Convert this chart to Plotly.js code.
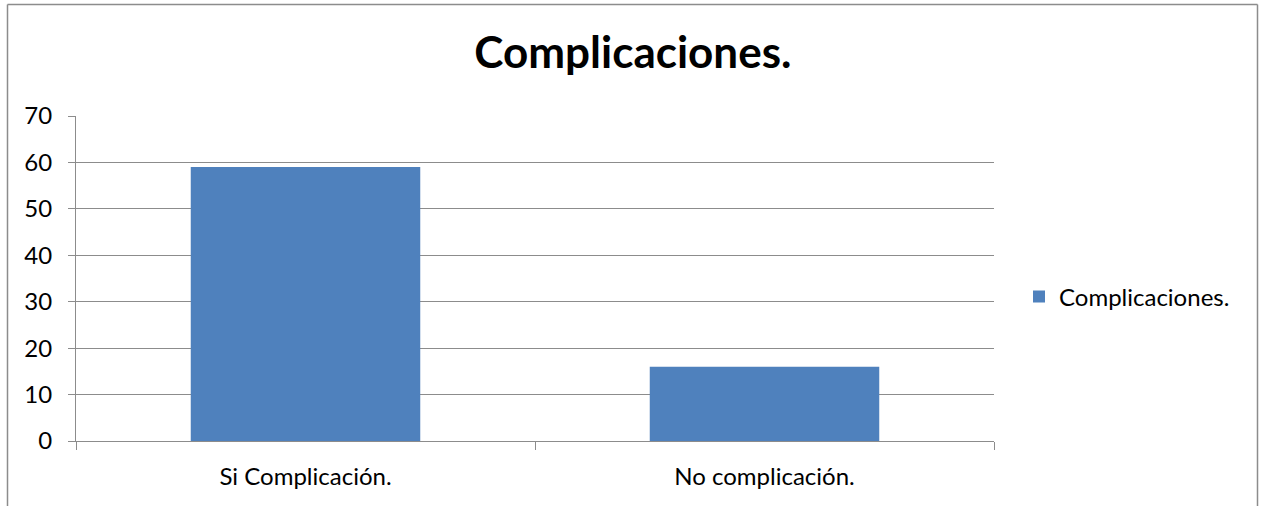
<!DOCTYPE html>
<html>
<head>
<meta charset="utf-8">
<script src="https://cdn.plot.ly/plotly-3.0.1.min.js"></script>
<style>html,body{margin:0;padding:0;background:#fff;}#chart{width:1262px;height:506px;}</style>
</head>
<body>
<div id="chart"></div>
<script>
var categories = ["Si Complicación.", "No complicación."];
var values = [59, 16];
var seriesName = "Complicaciones.";
var chartTitle = "Complicaciones.";
var yTicks = [0, 10, 20, 30, 40, 50, 60, 70];

var FONT = "Lato, 'Open Sans', sans-serif";
var GRID = "#8c8c8c";

var trace = {
  type: "bar",
  x: categories,
  y: values,
  name: seriesName,
  marker: {color: "#4F81BD", line: {width: 0}},
  showlegend: true,
  hoverinfo: "x+y"
};

var layout = {
  width: 1262,
  height: 506,
  margin: {l: 76, r: 268, t: 116, b: 65, pad: 0},
  paper_bgcolor: "#ffffff",
  plot_bgcolor: "#ffffff",
  font: {family: FONT, size: 24, color: "#000"},
  title: {
    text: "<b>" + chartTitle + "</b>",
    font: {family: FONT, size: 44, color: "#000"},
    x: 0.5015, xref: "container", xanchor: "center",
    y: 1 - 53/506, yref: "container", yanchor: "middle"
  },
  bargap: 0.5,
  xaxis: {
    type: "category",
    showline: true, linecolor: GRID, linewidth: 1,
    ticks: "outside", tickson: "boundaries", ticklen: 8, tickcolor: GRID, tickwidth: 1,
    ticklabelstandoff: 14,
    showgrid: false, zeroline: false,
    tickfont: {family: FONT, size: 24, color: "#000"}
  },
  yaxis: {
    range: [0, 70],
    tickvals: yTicks,
    ticktext: yTicks.map(String),
    showline: true, linecolor: GRID, linewidth: 1,
    ticks: "outside", ticklen: 7, tickcolor: GRID, tickwidth: 1,
    ticklabelstandoff: 11,
    showgrid: true, gridcolor: GRID, gridwidth: 1,
    zeroline: false,
    tickfont: {family: FONT, size: 24, color: "#000"}
  },
  legend: {
    x: (1019 - 76) / 918, xanchor: "left",
    y: (441 - 297) / 325, yanchor: "middle",
    font: {family: FONT, size: 24, color: "#000"},
    bgcolor: "rgba(0,0,0,0)",
    borderwidth: 0
  },
  shapes: [
    {type: "line", xref: "paper", yref: "paper",
     x0: (7.5 - 76) / 918, x1: (7.5 - 76) / 918, y0: (441 - 4.5) / 325, y1: (441 - 520) / 325,
     line: {color: "#8c8c8c", width: 1.5}},
    {type: "line", xref: "paper", yref: "paper",
     x0: (1257.5 - 76) / 918, x1: (1257.5 - 76) / 918, y0: (441 - 4.5) / 325, y1: (441 - 520) / 325,
     line: {color: "#8c8c8c", width: 1.5}},
    {type: "line", xref: "paper", yref: "paper",
     x0: (7.5 - 76) / 918, x1: (1257.5 - 76) / 918, y0: (441 - 4.5) / 325, y1: (441 - 4.5) / 325,
     line: {color: "#8c8c8c", width: 1.5}}
  ]
};

Plotly.newPlot("chart", [trace], layout, {displayModeBar: false, staticPlot: true});
</script>
</body>
</html>
